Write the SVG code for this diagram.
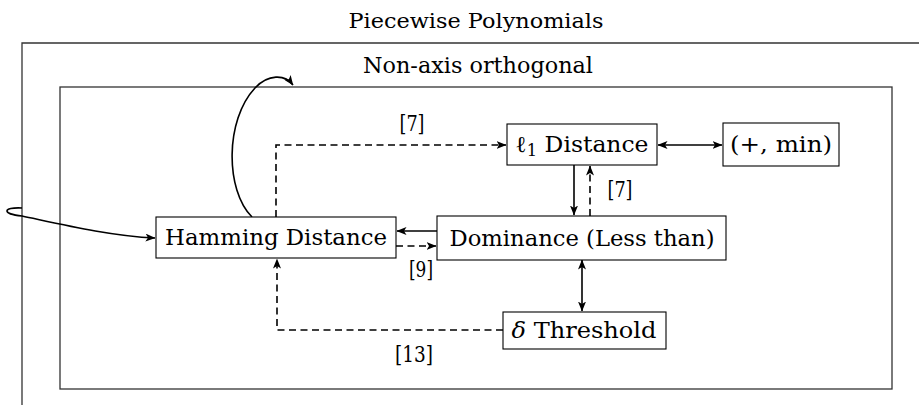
<svg xmlns="http://www.w3.org/2000/svg" width="919" height="405" viewBox="0 0 919 405">
<style>
  text { font-family: "DejaVu Serif", "Liberation Serif", serif; fill: #000; }
  .lbl { font-size: 23px; text-anchor: middle; }
  .box { fill: #fff; stroke: #000; stroke-width: 1.1; }
  .frame { fill: none; stroke: #333; stroke-width: 1.3; }
  .edge { fill: none; stroke: #000; stroke-width: 1.6; }
  .dash { stroke-dasharray: 7 4.5; }
</style>
<defs>
  <marker id="ah" viewBox="0 0 10 8" refX="9.5" refY="4" markerWidth="10" markerHeight="8" markerUnits="userSpaceOnUse" orient="auto-start-reverse">
    <path d="M0,0 L10,4 L0,8 L2.5,4 z" fill="#000"/>
  </marker>
</defs>

<g id="frames">
  <path class="frame" d="M22 405 V43 H919"/>
  <rect class="frame" x="60" y="87" width="832" height="302"/>
  <text class="lbl" x="476" y="28" style="font-size:21px" textLength="255" lengthAdjust="spacingAndGlyphs">Piecewise Polynomials</text>
  <text class="lbl" x="478" y="73" textLength="230" lengthAdjust="spacingAndGlyphs">Non-axis orthogonal</text>
</g>

<g id="connectors">
  <path class="edge dash" d="M276 217 V145 H506" marker-end="url(#ah)"/>
  <path class="edge" d="M574 165 V215" marker-end="url(#ah)"/>
  <path class="edge dash" d="M590 216 V166" marker-end="url(#ah)"/>
  <path class="edge" d="M658 145 H722" marker-start="url(#ah)" marker-end="url(#ah)"/>
  <path class="edge" d="M437 231 H397" marker-end="url(#ah)"/>
  <path class="edge dash" d="M396 246 H436" marker-end="url(#ah)"/>
  <path class="edge" d="M582 260 V311" marker-start="url(#ah)" marker-end="url(#ah)"/>
  <path class="edge dash" d="M503 330 H277 V259" marker-end="url(#ah)"/>
  <path class="edge" d="M252 217 C 225 190, 225 120, 255 88 C 268 74, 285 74, 293 85" marker-end="url(#ah)"/>
  <path class="edge" d="M22 208 C 2 207, 2 214, 22 216 C 60 224, 110 236, 155 238" marker-end="url(#ah)"/>
  <text class="lbl" x="412" y="131" textLength="25" lengthAdjust="spacingAndGlyphs">[7]</text>
  <text class="lbl" x="620" y="197" textLength="25" lengthAdjust="spacingAndGlyphs">[7]</text>
  <text class="lbl" x="421" y="277" textLength="24" lengthAdjust="spacingAndGlyphs">[9]</text>
  <text class="lbl" x="414" y="362" textLength="38" lengthAdjust="spacingAndGlyphs">[13]</text>
</g>

<g id="hamming">
  <rect class="box" x="156" y="217" width="240" height="41"/>
  <text class="lbl" x="276" y="245" textLength="222" lengthAdjust="spacingAndGlyphs">Hamming Distance</text>
</g>
<g id="dominance">
  <rect class="box" x="437" y="216" width="289" height="44"/>
  <text class="lbl" x="582" y="246" textLength="265" lengthAdjust="spacingAndGlyphs">Dominance (Less than)</text>
</g>
<g id="l1">
  <rect class="box" x="507" y="124" width="150" height="41"/>
  <text class="lbl" x="582" y="152" textLength="133" lengthAdjust="spacingAndGlyphs">ℓ<tspan style="font-size:16px" dy="4">1</tspan><tspan dy="-4"> Distance</tspan></text>
</g>
<g id="plusmin">
  <rect class="box" x="723" y="123" width="116" height="43"/>
  <text class="lbl" x="781" y="152" textLength="102" lengthAdjust="spacingAndGlyphs">(+, min)</text>
</g>
<g id="threshold">
  <rect class="box" x="503" y="312" width="163" height="37"/>
  <text class="lbl" x="584" y="338" textLength="145" lengthAdjust="spacingAndGlyphs"><tspan font-style="italic">δ</tspan> Threshold</text>
</g>
</svg>
